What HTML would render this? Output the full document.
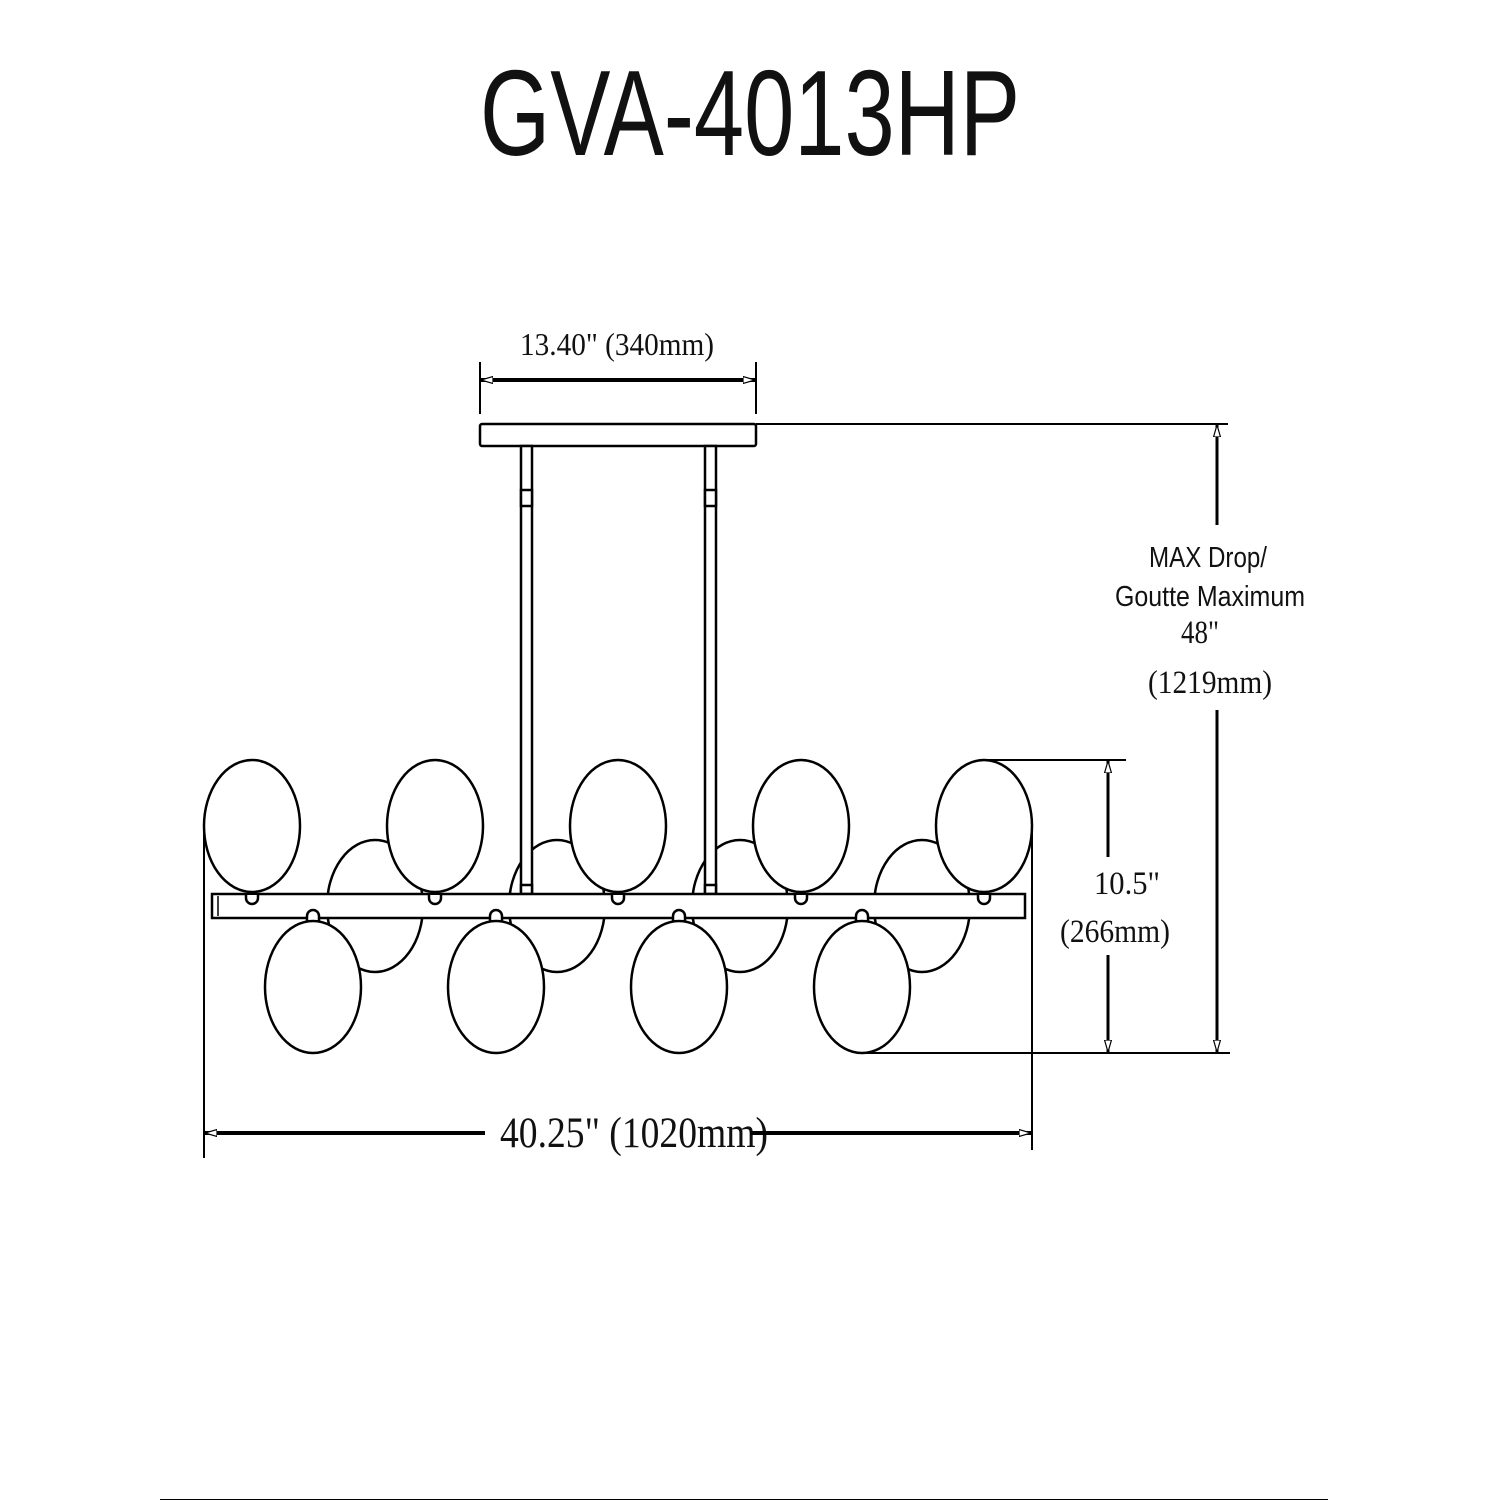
<!DOCTYPE html>
<html><head><meta charset="utf-8"><style>body{margin:0;background:#fff}svg{display:block}</style></head>
<body>
<svg width="1500" height="1500" viewBox="0 0 1500 1500" xmlns="http://www.w3.org/2000/svg">
<defs>
<marker id="a" viewBox="0 0 12 8" refX="12" refY="4" markerWidth="12" markerHeight="8" markerUnits="userSpaceOnUse" orient="auto-start-reverse">
<path d="M0,0.5 L12,4 L0,7.5 Z" fill="#fff" stroke="#000" stroke-width="1.2"/></marker>
</defs>
<text x="750" y="155" text-anchor="middle" font-family="Liberation Sans, sans-serif" font-size="122" textLength="540" lengthAdjust="spacingAndGlyphs" fill="#111">GVA-4013HP</text>

<g font-family="Liberation Serif, serif" fill="#111">
<text x="617" y="355" text-anchor="middle" font-size="32" textLength="194" lengthAdjust="spacingAndGlyphs">13.40" (340mm)</text>
<text x="634" y="1147" text-anchor="middle" font-size="43" textLength="268" lengthAdjust="spacingAndGlyphs">40.25" (1020mm)</text>
<text x="1127" y="894" text-anchor="middle" font-size="33" textLength="66" lengthAdjust="spacingAndGlyphs">10.5"</text>
<text x="1115" y="942" text-anchor="middle" font-size="33" textLength="110" lengthAdjust="spacingAndGlyphs">(266mm)</text>
<text x="1200" y="643" text-anchor="middle" font-size="33" textLength="38" lengthAdjust="spacingAndGlyphs">48"</text>
<text x="1210" y="693" text-anchor="middle" font-size="33" textLength="124" lengthAdjust="spacingAndGlyphs">(1219mm)</text>
</g>
<g font-family="Liberation Sans, sans-serif" fill="#111" font-size="29">
<text x="1208" y="567" text-anchor="middle" textLength="118" lengthAdjust="spacingAndGlyphs">MAX Drop/</text>
<text x="1210" y="606" text-anchor="middle" textLength="190" lengthAdjust="spacingAndGlyphs">Goutte Maximum</text>
</g>

<g stroke="#000" fill="none">
<line x1="480" y1="362" x2="480" y2="414" stroke-width="2"/>
<line x1="756" y1="362" x2="756" y2="414" stroke-width="2"/>
<line x1="481" y1="380" x2="755" y2="380" stroke-width="4" marker-start="url(#a)" marker-end="url(#a)"/>
<line x1="756" y1="424" x2="1228" y2="424" stroke-width="2"/>
<line x1="1217" y1="425" x2="1217" y2="525" stroke-width="3" marker-start="url(#a)"/>
<line x1="1217" y1="710" x2="1217" y2="1052" stroke-width="3" marker-end="url(#a)"/>
<line x1="862" y1="1053" x2="1230" y2="1053" stroke-width="2"/>
<line x1="984" y1="760" x2="1126" y2="760" stroke-width="2"/>
<line x1="1108" y1="761" x2="1108" y2="857" stroke-width="3" marker-start="url(#a)"/>
<line x1="1108" y1="955" x2="1108" y2="1052" stroke-width="3" marker-end="url(#a)"/>
<line x1="204" y1="828" x2="204" y2="1158" stroke-width="2"/>
<line x1="1032" y1="828" x2="1032" y2="1150" stroke-width="2"/>
<line x1="205" y1="1133" x2="485" y2="1133" stroke-width="4" marker-start="url(#a)"/>
<line x1="750" y1="1133" x2="1031" y2="1133" stroke-width="4" marker-end="url(#a)"/>
<line x1="160" y1="1500" x2="1328" y2="1500" stroke-width="2"/>
</g>

<g stroke="#000" stroke-width="2.5" fill="#fff">
<rect x="480" y="424" width="276" height="22" rx="2"/>
<ellipse cx="375" cy="906" rx="48" ry="66"/>
<ellipse cx="557" cy="906" rx="48" ry="66"/>
<ellipse cx="740" cy="906" rx="48" ry="66"/>
<ellipse cx="922" cy="906" rx="48" ry="66"/>
<rect x="521" y="446" width="11" height="448"/>
<rect x="705" y="446" width="11" height="448"/>
<rect x="521" y="490" width="11" height="16"/>
<rect x="705" y="490" width="11" height="16"/>
<rect x="521" y="885" width="11" height="9"/>
<rect x="705" y="885" width="11" height="9"/>
<rect x="212" y="894" width="813" height="24"/>
<line x1="218" y1="896" x2="218" y2="916" stroke-width="1.5"/>
<g>
<path d="M246,895 v3 a6,6 0 0 0 12,0 v-3"/>
<path d="M429,895 v3 a6,6 0 0 0 12,0 v-3"/>
<path d="M612,895 v3 a6,6 0 0 0 12,0 v-3"/>
<path d="M795,895 v3 a6,6 0 0 0 12,0 v-3"/>
<path d="M978,895 v3 a6,6 0 0 0 12,0 v-3"/>
<path d="M307,922 v-6 a6,6 0 0 1 12,0 v6"/>
<path d="M490,922 v-6 a6,6 0 0 1 12,0 v6"/>
<path d="M673,922 v-6 a6,6 0 0 1 12,0 v6"/>
<path d="M856,922 v-6 a6,6 0 0 1 12,0 v6"/>
</g>
<ellipse cx="252" cy="826" rx="48" ry="66"/>
<ellipse cx="435" cy="826" rx="48" ry="66"/>
<ellipse cx="618" cy="826" rx="48" ry="66"/>
<ellipse cx="801" cy="826" rx="48" ry="66"/>
<ellipse cx="984" cy="826" rx="48" ry="66"/>
<ellipse cx="313" cy="987" rx="48" ry="66"/>
<ellipse cx="496" cy="987" rx="48" ry="66"/>
<ellipse cx="679" cy="987" rx="48" ry="66"/>
<ellipse cx="862" cy="987" rx="48" ry="66"/>
</g>
</svg>
</body></html>
